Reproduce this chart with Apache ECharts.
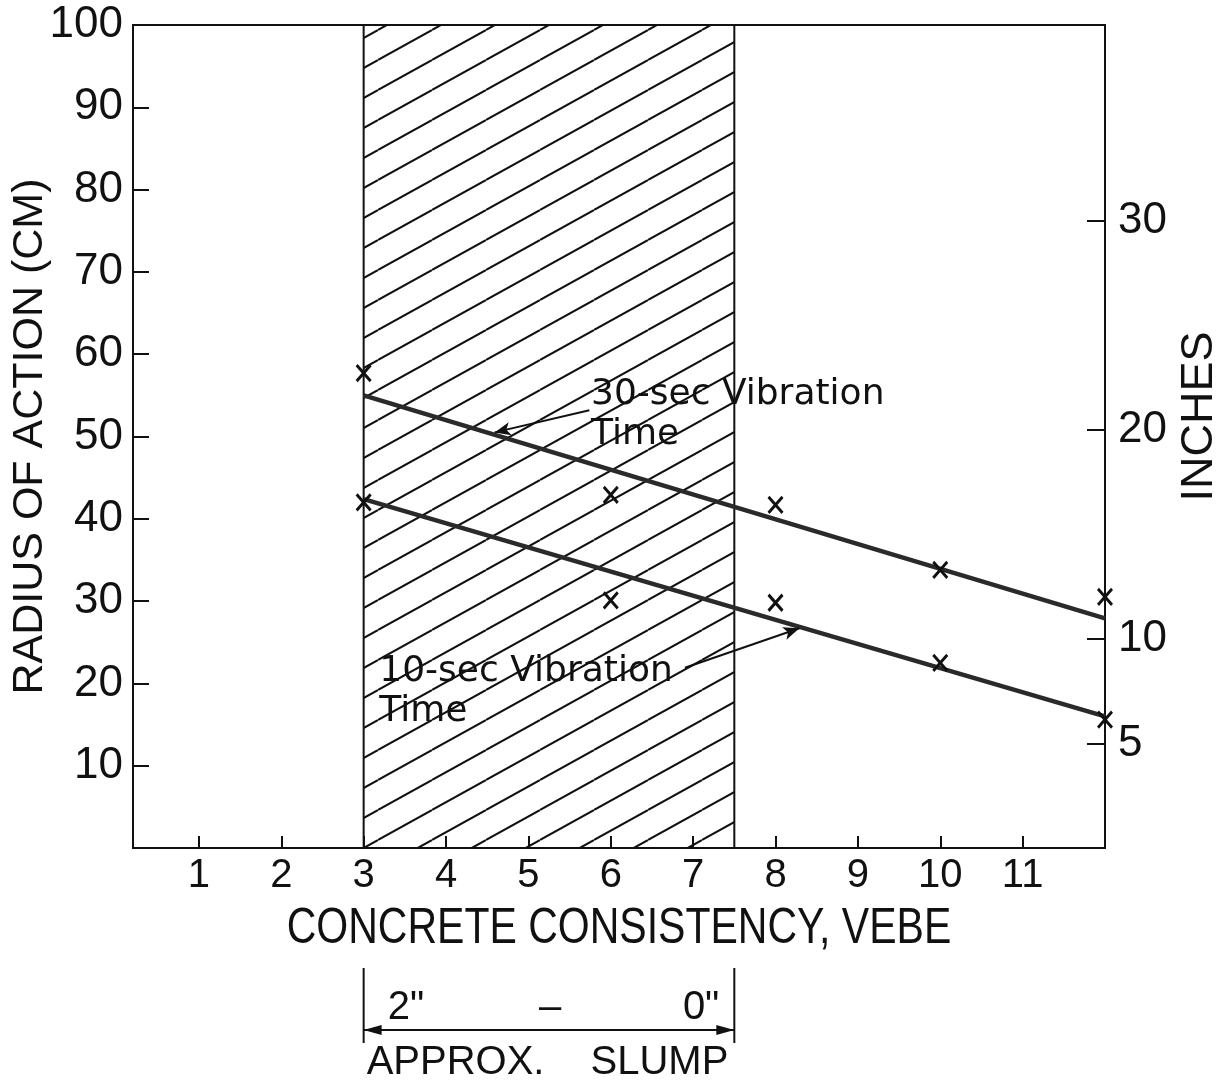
<!DOCTYPE html>
<html>
<head>
<meta charset="utf-8">
<script src="https://cdn.jsdelivr.net/npm/echarts@6/dist/echarts.min.js"></script>
<style>
  html, body { margin: 0; padding: 0; background: #fff; }
  #chart { width: 1220px; height: 1082px; }
</style>
</head>
<body>
<div id="chart"></div>
<script>
// measured points (x marks) and the two fitted lines
const vebe = [3, 6, 8, 10, 12];
const radius30 = [57.7, 42.9, 41.7, 33.8, 30.5];
const radius10 = [42.0, 30.1, 29.8, 22.5, 15.6];
const fit30 = [[3, 55.0], [12, 27.9]];
const fit10 = [[3, 42.4], [12, 16.0]];

// hatched band = approx slump 2" .. 0"
const slumpBand = [3, 7.5];

// ticks
const xTicks = [1, 2, 3, 4, 5, 6, 7, 8, 9, 10, 11];
const cmTicks = [10, 20, 30, 40, 50, 60, 70, 80, 90, 100];
const inchTicks = [5, 10, 20, 30];
const cmPerInch = 2.54;

// annotations (data coords)
const notes = [
  { text: "30-sec Vibration\nTime", at: [5.76, 57.5], from: [5.74, 53.2], to: [4.59, 50.5] },
  { text: "10-sec Vibration\nTime", at: [3.19, 23.8], from: [6.9, 21.9], to: [8.29, 26.7] }
];

const INK = "#111";
const numFont = "Liberation Sans";

// diagonal hatch tile
function hatchPattern() {
  const w = 54, h = 30;
  const c = document.createElement("canvas");
  c.width = w;
  c.height = h;
  const ctx = c.getContext("2d");
  ctx.strokeStyle = INK;
  ctx.lineWidth = 2;
  for (let k = -1; k <= 1; k++) {
    ctx.beginPath();
    ctx.moveTo(0, h + k * h);
    ctx.lineTo(w, k * h);
    ctx.stroke();
  }
  return { image: c, repeat: "repeat" };
}

const pair = (xs, ys) => xs.map((x, i) => [x, ys[i]]);
const xMark = "path://M0,0L10,12M10,0L0,12";
const markStyle = { color: "transparent", borderColor: INK, borderWidth: 3, opacity: 1 };

const chart = echarts.init(document.getElementById("chart"));

chart.setOption({
  backgroundColor: "#fff",
  animation: false,
  grid: {
    left: 133, right: 115, top: 25, bottom: 234,
    outerBoundsMode: "none",
    show: true, borderColor: INK, borderWidth: 2, backgroundColor: "transparent"
  },
  xAxis: {
    type: "value",
    min: 0.2,
    max: 12,
    axisLine: { lineStyle: { color: INK, width: 2 } },
    axisTick: { inside: true, length: 12, customValues: xTicks, lineStyle: { color: INK, width: 2 } },
    axisLabel: { customValues: xTicks, margin: 8, fontFamily: numFont, fontSize: 40, color: INK },
    splitLine: { show: false }
  },
  yAxis: [
    {
      type: "value",
      min: 0,
      max: 100,
      name: "RADIUS OF ACTION (CM)",
      nameLocation: "middle",
      nameGap: 81,
      nameMoveOverlap: false,
      nameRotate: 90,
      nameTextStyle: { fontFamily: numFont, fontSize: 43, color: INK },
      axisLine: { show: true, lineStyle: { color: INK, width: 2 } },
      axisTick: { inside: true, length: 16, customValues: cmTicks, lineStyle: { color: INK, width: 2 } },
      axisLabel: { customValues: cmTicks, margin: 10, fontFamily: numFont, fontSize: 44, color: INK },
      splitLine: { show: false }
    },
    {
      type: "value",
      position: "right",
      min: 0,
      max: 100 / cmPerInch,
      name: "INCHES",
      nameLocation: "middle",
      nameGap: 72,
      nameMoveOverlap: false,
      nameRotate: 90,
      nameTextStyle: { fontFamily: numFont, fontSize: 45, color: INK, padding: [0, 0, 0, 40] },
      axisLine: { show: true, lineStyle: { color: INK, width: 2 } },
      axisTick: { inside: true, length: 18, customValues: inchTicks, lineStyle: { color: INK, width: 2 } },
      axisLabel: { customValues: inchTicks, margin: 13, fontFamily: numFont, fontSize: 44, color: INK },
      splitLine: { show: false }
    }
  ],
  series: [
    {
      // hatched band + annotation arrows
      type: "line",
      data: [],
      z: 1,
      markArea: {
        silent: true,
        label: { show: false },
        itemStyle: { color: hatchPattern(), borderColor: INK, borderWidth: 2 },
        data: [[{ xAxis: slumpBand[0] }, { xAxis: slumpBand[1] }]]
      },
      markLine: {
        silent: true,
        symbol: ["none", "arrow"],
        symbolSize: [10, 16],
        label: { show: false },
        lineStyle: { color: INK, width: 2, type: "solid" },
        data: notes.map((n) => [{ coord: n.from }, { coord: n.to }])
      }
    },
    {
      name: "30-sec fit",
      type: "line",
      z: 3,
      data: fit30,
      showSymbol: false,
      lineStyle: { color: "#2a2a2a", width: 4.5 }
    },
    {
      name: "10-sec fit",
      type: "line",
      z: 3,
      data: fit10,
      showSymbol: false,
      lineStyle: { color: "#2a2a2a", width: 4.5 }
    },
    {
      name: "30-sec",
      type: "scatter",
      z: 4,
      data: pair(vebe, radius30),
      symbol: xMark,
      symbolSize: [14, 16],
      clip: false,
      itemStyle: markStyle
    },
    {
      name: "10-sec",
      type: "scatter",
      z: 4,
      data: pair(vebe, radius10),
      symbol: xMark,
      symbolSize: [14, 16],
      clip: false,
      itemStyle: markStyle
    }
  ]
});

// text notes, axis title and the slump bracket below the axis
const px = (x, y) => chart.convertToPixel({ xAxisIndex: 0, yAxisIndex: 0 }, [x, y]);
const left = px(slumpBand[0], 0)[0];
const right = px(slumpBand[1], 0)[0];
const plotMid = (px(0.2, 0)[0] + px(12, 0)[0]) / 2;
const arrowY = 1030;
const capText = { fontFamily: numFont, fontSize: 40, fill: INK };

const graphic = notes.map((n) => {
  const p = px(n.at[0], n.at[1]);
  return {
    type: "text",
    x: p[0],
    y: p[1],
    style: { text: n.text, fontFamily: "DejaVu Sans", fontSize: 36, lineHeight: 40, fill: INK }
  };
});

graphic.push(
  // condensed x-axis title
  {
    type: "text", x: plotMid, y: 904, scaleX: 0.82,
    style: { text: "CONCRETE CONSISTENCY, VEBE", align: "center", fontFamily: numFont, fontSize: 50, fill: INK }
  },
  { type: "line", shape: { x1: left, y1: 968, x2: left, y2: 1043 }, style: { stroke: INK, lineWidth: 2 } },
  { type: "line", shape: { x1: right, y1: 968, x2: right, y2: 1043 }, style: { stroke: INK, lineWidth: 2 } },
  { type: "line", shape: { x1: left, y1: arrowY, x2: right, y2: arrowY }, style: { stroke: INK, lineWidth: 2 } },
  { type: "polygon", shape: { points: [[left, arrowY], [left + 18, arrowY - 5], [left + 18, arrowY + 5]] }, style: { fill: INK } },
  { type: "polygon", shape: { points: [[right, arrowY], [right - 18, arrowY - 5], [right - 18, arrowY + 5]] }, style: { fill: INK } },
  { type: "text", x: left + 24, y: 988, style: Object.assign({ text: '2"' }, capText) },
  { type: "text", x: (left + right) / 2 - 10, y: 988, style: Object.assign({ text: "–" }, capText) },
  { type: "text", x: right - 15, y: 988, style: Object.assign({ text: '0"', align: "right" }, capText) },
  { type: "text", x: left + 3, y: 1043, style: Object.assign({ text: "APPROX." }, capText) },
  { type: "text", x: right - 6, y: 1043, style: Object.assign({ text: "SLUMP", align: "right" }, capText) }
);

chart.setOption({ graphic: graphic });
</script>
</body>
</html>
